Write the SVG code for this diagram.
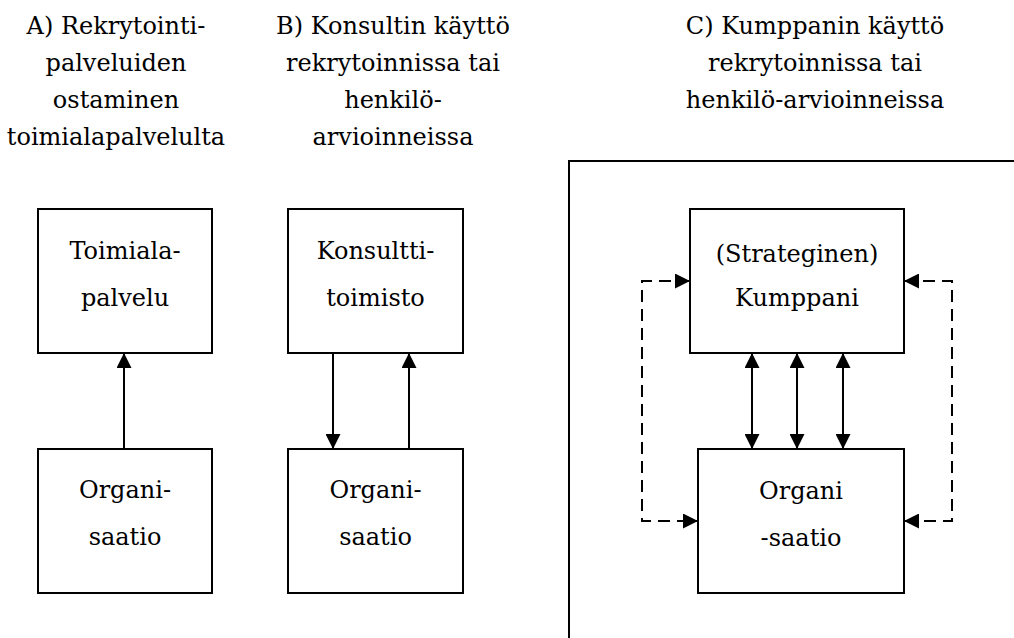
<svg xmlns="http://www.w3.org/2000/svg" width="1014" height="638" viewBox="0 0 1014 638">
  <style>
    .t { font-family: "DejaVu Serif", "Liberation Serif", serif; font-size: 24px; fill: #000; text-anchor: middle; }
    .box { fill: #fff; stroke: #000; stroke-width: 2; }
    .ln { fill: none; stroke: #000; stroke-width: 2; }
    .dash { fill: none; stroke: #000; stroke-width: 2; stroke-dasharray: 12 7; }
  </style>
  <defs>
    <marker id="head" markerUnits="userSpaceOnUse" markerWidth="15" markerHeight="15" refX="15" refY="7.5" orient="auto-start-reverse">
      <path d="M0,0 L15,7.5 L0,15 Z" fill="#000"/>
    </marker>
  </defs>
  <rect width="1014" height="638" fill="#fff"/>

  <!-- column headings -->
  <g id="heading-a">
    <text class="t" x="116" y="34">A) Rekrytointi-</text>
    <text class="t" x="116" y="71">palveluiden</text>
    <text class="t" x="116" y="108">ostaminen</text>
    <text class="t" x="116" y="145">toimialapalvelulta</text>
  </g>
  <g id="heading-b">
    <text class="t" x="393" y="34">B) Konsultin käyttö</text>
    <text class="t" x="393" y="71">rekrytoinnissa tai</text>
    <text class="t" x="393" y="108">henkilö-</text>
    <text class="t" x="393" y="145">arvioinneissa</text>
  </g>
  <g id="heading-c">
    <text class="t" x="815" y="34">C) Kumppanin käyttö</text>
    <text class="t" x="815" y="71">rekrytoinnissa tai</text>
    <text class="t" x="815" y="108">henkilö-arvioinneissa</text>
  </g>

  <!-- frame around the partnership model -->
  <path id="frame-c" class="ln" d="M569,638 V161 H1014"/>

  <!-- connectors -->
  <g id="connectors">
    <line class="ln" x1="124" y1="449" x2="124" y2="353" marker-end="url(#head)"/>
    <line class="ln" x1="333" y1="353" x2="333" y2="449" marker-end="url(#head)"/>
    <line class="ln" x1="409" y1="449" x2="409" y2="353" marker-end="url(#head)"/>
    <line class="ln" x1="752" y1="353" x2="752" y2="449" marker-start="url(#head)" marker-end="url(#head)"/>
    <line class="ln" x1="797" y1="353" x2="797" y2="449" marker-start="url(#head)" marker-end="url(#head)"/>
    <line class="ln" x1="843" y1="353" x2="843" y2="449" marker-start="url(#head)" marker-end="url(#head)"/>
    <path class="dash" d="M690,281 H642 V521 H698" marker-start="url(#head)" marker-end="url(#head)"/>
    <path class="dash" d="M904,281 H952 V521 H904" marker-start="url(#head)" marker-end="url(#head)"/>
  </g>

  <!-- column A -->
  <g id="toimialapalvelu">
    <rect class="box" x="38" y="209" width="174" height="144"/>
    <text class="t" x="125" y="259">Toimiala-</text>
    <text class="t" x="125" y="306">palvelu</text>
  </g>
  <g id="organisaatio-a">
    <rect class="box" x="38" y="449" width="174" height="144"/>
    <text class="t" x="125" y="498">Organi-</text>
    <text class="t" x="125" y="545">saatio</text>
  </g>

  <!-- column B -->
  <g id="konsulttitoimisto">
    <rect class="box" x="288" y="209" width="175" height="144"/>
    <text class="t" x="375.5" y="259">Konsultti-</text>
    <text class="t" x="375.5" y="306">toimisto</text>
  </g>
  <g id="organisaatio-b">
    <rect class="box" x="288" y="449" width="175" height="144"/>
    <text class="t" x="375.5" y="498">Organi-</text>
    <text class="t" x="375.5" y="545">saatio</text>
  </g>

  <!-- column C -->
  <g id="kumppani">
    <rect class="box" x="690" y="209" width="214" height="144"/>
    <text class="t" x="797" y="262">(Strateginen)</text>
    <text class="t" x="797" y="306">Kumppani</text>
  </g>
  <g id="organisaatio-c">
    <rect class="box" x="698" y="449" width="206" height="144"/>
    <text class="t" x="801" y="499">Organi</text>
    <text class="t" x="801" y="546">-saatio</text>
  </g>
</svg>
